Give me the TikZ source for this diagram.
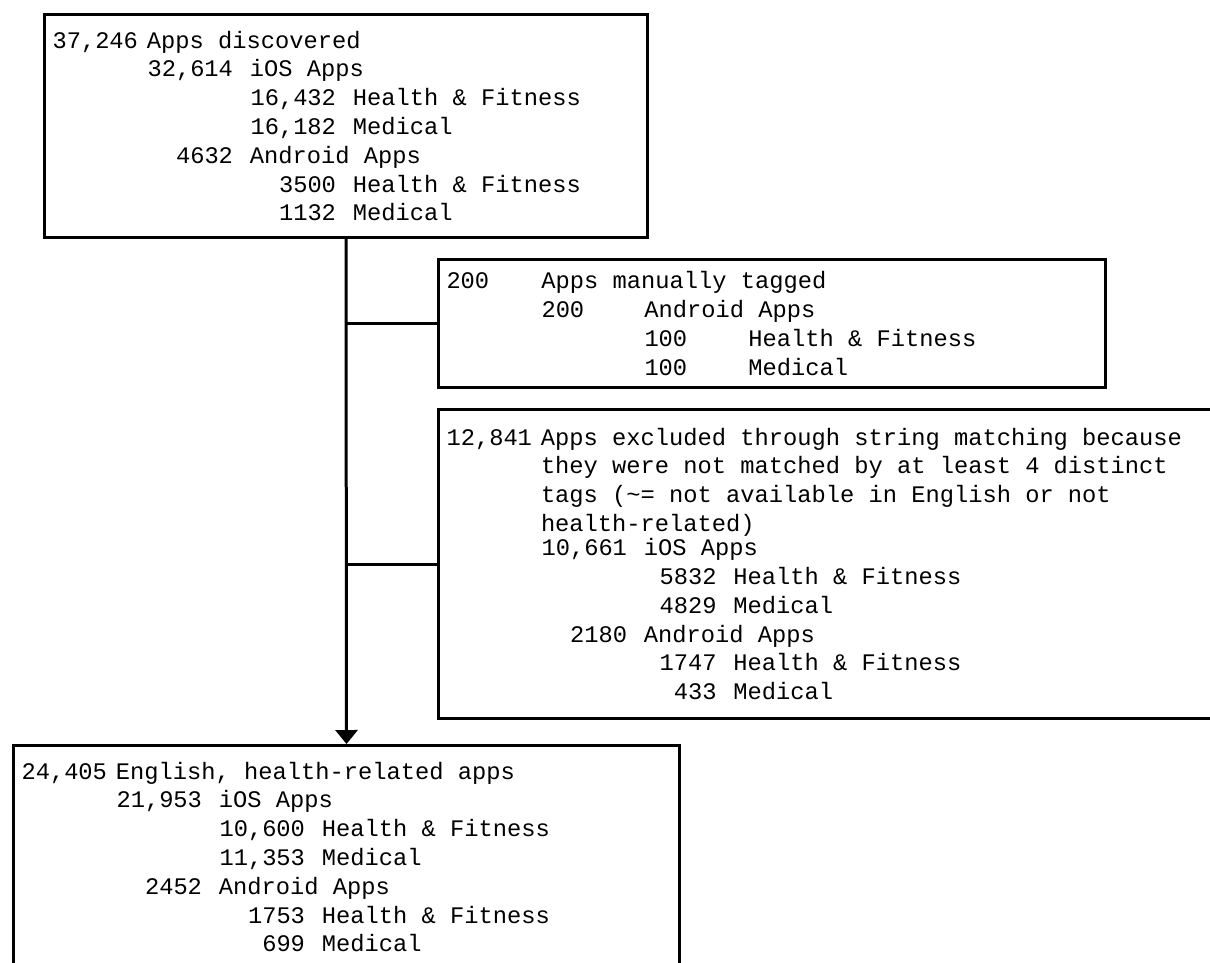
\documentclass[tikz,border=0pt]{standalone}
\usepackage{fontspec}
\newfontfamily\countfont{Liberation Mono}
\usetikzlibrary{arrows.meta}

\newcommand{\boxfont}{\countfont\fontsize{11.87}{14.4}\selectfont}
\newcommand{\fixedspace}{\spaceskip=7.12pt\relax\xspaceskip=7.12pt\relax}
\newcommand{\topcount}[2]{\makebox[42.75pt][r]{#1}\hspace{4.5pt}#2}
\newcommand{\subcount}[4][42.75pt]{\hspace*{#2}\makebox[#1][r]{#3}\hspace{8.5pt}#4}
\newcommand{\tagcount}[4]{\hspace*{#1}\makebox[#2][l]{#3}#4}

\begin{document}
\begin{tikzpicture}[x=0.5pt,y=-0.5pt]
\tikzset{
  stagebox/.style={draw, line width=1.5pt, anchor=north west, align=flush left,
    inner xsep=4pt, inner ysep=0pt, font=\boxfont,
    execute at begin node=\fixedspace},
  flow/.style={line width=1.5pt}
}
\useasboundingbox (0,0) rectangle (1210,963);
% discovered apps
\node[stagebox, text width=293.5pt, minimum height=111.5pt] (found) at (43,13) {%
\topcount{37,246}{Apps discovered}\\
\subcount{47.5pt}{32,614}{iOS Apps}\\
\subcount{99pt}{16,432}{Health \& Fitness}\\
\subcount{99pt}{16,182}{Medical}\\
\subcount{47.5pt}{4632}{Android Apps}\\
\subcount{99pt}{3500}{Health \& Fitness}\\
\subcount{99pt}{1132}{Medical}};
% manually tagged
\node[stagebox, text width=325.5pt, minimum height=64pt] (tagged) at (437,258) {%
\tagcount{0pt}{47.5pt}{200}{Apps manually tagged}\\
\tagcount{47.5pt}{51.5pt}{200}{Android Apps}\\
\tagcount{99pt}{52pt}{100}{Health \& Fitness}\\
\tagcount{99pt}{52pt}{100}{Medical}};
% excluded by string matching
\node[stagebox, text width=382pt, minimum height=154.5pt] (excluded) at (437,408) {%
\topcount{12,841}{\parbox[t]{330pt}{Apps excluded through string matching because\\
they were not matched by at least 4 distinct\\
tags (\textasciitilde= not available in English or not\\
health-related)}}\\
\subcount{47.5pt}{10,661}{iOS Apps}\\
\subcount[36pt]{99pt}{5832}{Health \& Fitness}\\
\subcount[36pt]{99pt}{4829}{Medical}\\
\subcount{47.5pt}{2180}{Android Apps}\\
\subcount[36pt]{99pt}{1747}{Health \& Fitness}\\
\subcount[36pt]{99pt}{433}{Medical}};
% remaining apps
\node[stagebox, text width=325pt, minimum height=111.5pt] (english) at (12,744) {%
\topcount{24,405}{English, health-related apps}\\
\subcount{47.5pt}{21,953}{iOS Apps}\\
\subcount{99pt}{10,600}{Health \& Fitness}\\
\subcount{99pt}{11,353}{Medical}\\
\subcount{47.5pt}{2452}{Android Apps}\\
\subcount{99pt}{1753}{Health \& Fitness}\\
\subcount{99pt}{699}{Medical}};
% connectors
\draw[flow, -{Triangle[length=7pt, width=11pt]}] (found.south) -- (english.north);
\draw[flow] (found.south |- tagged.west) -- (tagged.west);
\draw[flow] (found.south |- excluded.west) -- (excluded.west);
\end{tikzpicture}
\end{document}
